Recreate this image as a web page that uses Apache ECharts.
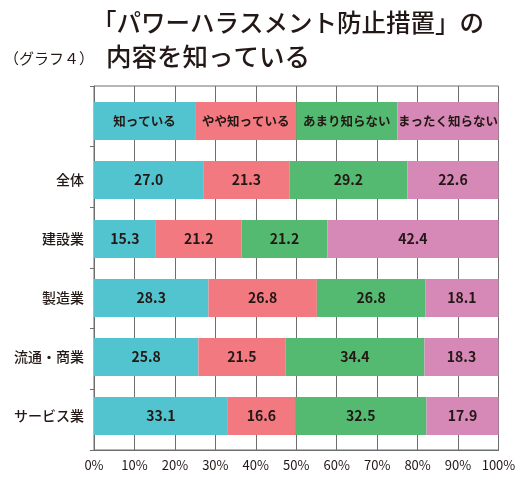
<!DOCTYPE html>
<html lang="ja">
<head>
    <meta charset="UTF-8">
    <title>グラフ4</title>
    <script type="text/javascript" src="https://cdn.jsdelivr.net/npm/echarts@6/dist/echarts.min.js"></script>
    <style>
        html, body { margin: 0; padding: 0; background: #fff; }
    </style>
</head>
<body>
<div id="main" style="width: 530px;height:487px;"></div>
<script>
    // data (percent)
    var categories = ['全体', '建設業', '製造業', '流通・商業', 'サービス業'];
    var seriesNames = ['知っている', 'やや知っている', 'あまり知らない', 'まったく知らない'];
    var knowWell = [27.0, 15.3, 28.3, 25.8, 33.1];
    var knowSome = [21.3, 21.2, 26.8, 21.5, 16.6];
    var knowLittle = [29.2, 21.2, 26.8, 34.4, 32.5];
    var knowNone = [22.6, 42.4, 18.1, 18.3, 17.9];
    var legendRow = [25, 25, 25, 25];   // the key bar drawn on top of the chart
    var tickLabels = ['0%', '10%', '20%', '30%', '40%', '50%', '60%', '70%', '80%', '90%', '100%'];

    var colors = ['#52c4d0', '#f27980', '#54ba71', '#d688b7'];
    var font = '"Noto Sans CJK JP", sans-serif';
    var ink = '#231815';
    var lineColor = '#6e6e6e';

    var allValues = [knowWell, knowSome, knowLittle, knowNone];
    var series = [];
    for (var i = 0; i < seriesNames.length; i++) {
        series.push({
            name: seriesNames[i],
            type: 'bar',
            stack: 'total',
            xAxisIndex: 1,
            yAxisIndex: 1,
            barWidth: 38,
            itemStyle: { color: colors[i] },
            label: {
                show: true,
                position: 'inside',
                formatter: function (p) {
                    if (p.dataIndex === 0) {
                        return '{lg|' + p.seriesName + '}';
                    }
                    return '{v|' + Number(p.value).toFixed(1) + '}';
                },
                rich: {
                    lg: { fontSize: 12.5, fontWeight: 'bold', color: ink, fontFamily: font },
                    v: { fontSize: 14, fontWeight: 'bold', color: ink, fontFamily: font }
                }
            },
            data: [legendRow[i]].concat(allValues[i])
        });
    }

    var myChart = echarts.init(document.getElementById('main'));
    var option = {
        animation: false,
        textStyle: { fontFamily: font },
        graphic: [
            {
                type: 'text', x: 92, y: 23,
                style: { text: '「パワーハラスメント防止措置」の', fontSize: 24.5, fontWeight: 500, fontFamily: font, fill: ink, verticalAlign: 'middle' }
            },
            {
                type: 'text', x: 106, y: 56,
                style: { text: '内容を知っている', fontSize: 25.5, fontWeight: 500, fontFamily: font, fill: ink, verticalAlign: 'middle' }
            },
            {
                type: 'text', x: 4, y: 58,
                style: { text: '（グラフ４）', fontSize: 15, fontFamily: font, fill: ink, verticalAlign: 'middle' }
            }
        ],
        grid: [
            { left: 94, right: 31.5, top: 86, bottom: 37, show: true, borderColor: lineColor, borderWidth: 1 },
            { left: 94, right: 31.5, top: 91.5, bottom: 41.5 }
        ],
        xAxis: [
            {
                gridIndex: 0,
                type: 'value',
                min: 0,
                max: 100,
                interval: 10,
                axisLine: { show: true, lineStyle: { color: lineColor } },
                axisTick: { show: false },
                splitLine: { show: true, lineStyle: { color: lineColor, width: 1 } },
                axisLabel: {
                    fontSize: 13,
                    color: ink,
                    margin: 9,
                    formatter: function (v) { return tickLabels[Math.round(v / 10)]; }
                }
            },
            { gridIndex: 1, type: 'value', min: 0, max: 100, show: false }
        ],
        yAxis: [
            {
                gridIndex: 0,
                type: 'category',
                data: ['', '', '', '', '', ''],
                axisLine: { show: true, lineStyle: { color: lineColor } },
                axisTick: { show: true, length: 4, lineStyle: { color: lineColor } },
                axisLabel: { show: false }
            },
            {
                gridIndex: 1,
                type: 'category',
                inverse: true,
                data: [''].concat(categories),
                axisLine: { show: false },
                axisTick: { show: false },
                axisLabel: { fontSize: 14, fontWeight: 500, color: ink, margin: 10, fontFamily: font }
            }
        ],
        series: series
    };
    myChart.setOption(option);
</script>
</body>
</html>
